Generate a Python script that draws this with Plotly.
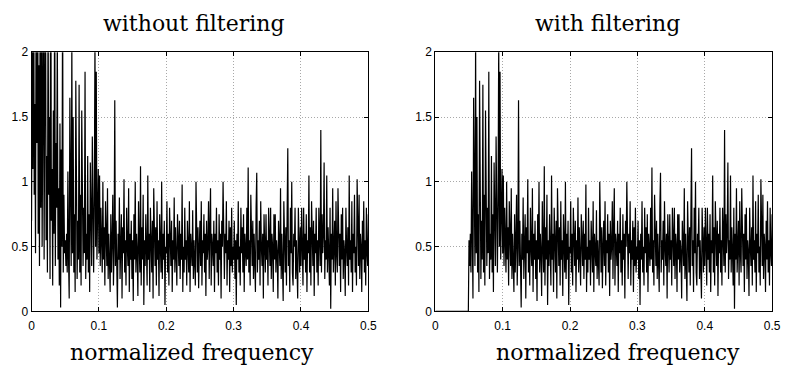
import numpy as np
import plotly.graph_objects as go

# Spectrum magnitude, in 0.05-wide frequency segments (0 .. 0.5)
seg_a = [0.7, 2.2, 1.1, 3.5, 0.9, 1.6, 0.45, 2.8, 1.3, 4.1, 0.6, 1.9, 0.35, 2.5, 0.8, 3.2,
         0.5, 1.4, 2.6, 0.4, 1.7, 3.0, 0.55, 1.2, 0.3, 2.4, 0.9, 1.5, 0.25, 3.3, 0.7, 1.1,
         0.2, 1.55, 0.6, 2.7, 0.35, 1.3, 0.8, 2.2, 0.4, 0.95, 0.2, 1.45, 0.03, 1.25, 0.5, 2.5,
         0.3, 0.9, 0.45]
seg_b = [0.55, 0.35, 0.6, 0.3, 1.08, 0.4, 0.1, 1.65, 0.5, 0.35, 2.1, 0.45, 1.5, 0.3, 0.75, 0.15,
         1.78, 0.55, 0.25, 0.7, 0.4, 1.75, 0.3, 0.9, 0.2, 1.55, 0.5, 0.35, 0.8, 0.45, 1.85, 0.25,
         0.6, 0.4, 1.2, 0.3, 0.75, 0.15, 1.15, 0.5, 0.35, 1.35, 0.6, 0.3, 0.85, 2.1, 0.5, 1.85,
         0.4, 0.7, 1.1]
seg_c = [0.45, 1.05, 0.35, 0.8, 0.55, 0.3, 1.0, 0.4, 0.65, 0.2, 0.85, 0.5, 0.35, 0.95, 0.25, 0.6,
         0.45, 0.15, 0.75, 0.3, 0.55, 0.9, 0.2, 0.5, 1.63, 0.35, 0.7, 0.15, 0.03, 0.6, 0.4, 0.88,
         0.25, 0.5, 0.75, 0.1, 0.65, 0.45, 1.02, 0.3, 0.55, 0.2, 0.8, 0.5, 0.35, 0.95, 0.15, 0.6,
         0.4, 0.7, 0.25]
seg_d = [0.55, 0.08, 0.75, 0.4, 1.0, 0.3, 0.6, 0.45, 0.12, 0.85, 0.5, 0.3, 1.12, 0.2, 0.65, 0.4,
         0.9, 0.05, 0.55, 0.35, 0.75, 0.5, 0.2, 1.05, 0.4, 0.6, 0.15, 0.8, 0.45, 0.3, 0.7, 0.1,
         0.95, 0.5, 0.35, 0.65, 0.2, 0.85, 0.4, 0.55, 0.12, 0.75, 0.45, 0.3, 1.0, 0.25, 0.6, 0.4,
         0.7, 0.05, 0.5]
seg_e = [0.45, 0.85, 0.3, 0.6, 0.2, 0.8, 0.5, 0.35, 0.7, 0.15, 0.55, 0.4, 0.88, 0.3, 0.65, 0.45,
         0.2, 0.75, 0.5, 0.35, 0.7, 0.25, 0.6, 0.4, 0.98, 0.15, 0.5, 0.3, 0.8, 0.4, 0.55, 0.2,
         0.7, 0.45, 0.3, 0.85, 0.15, 0.6, 0.5, 0.35, 0.78, 0.25, 0.55, 0.4, 0.2, 1.0, 0.45, 0.3,
         0.65, 0.18, 0.5]
seg_f = [0.7, 0.35, 0.85, 0.2, 0.55, 0.45, 0.75, 0.3, 0.6, 0.12, 0.7, 0.4, 0.5, 0.85, 0.25, 0.65,
         0.95, 0.2, 0.6, 0.5, 0.35, 0.7, 0.15, 0.6, 0.45, 0.8, 0.3, 0.55, 0.2, 0.75, 0.4, 0.6,
         0.1, 0.7, 0.5, 1.0, 0.35, 0.25, 0.6, 0.45, 0.85, 0.2, 0.55, 0.4, 0.7, 0.15, 0.65, 0.35,
         0.8, 0.3, 0.5]
seg_g = [0.4, 0.7, 0.25, 0.55, 0.05, 0.6, 0.4, 0.85, 0.3, 0.5, 0.2, 0.8, 0.45, 0.65, 0.3, 0.75,
         0.15, 0.6, 0.5, 0.35, 0.8, 0.4, 1.11, 0.3, 0.55, 0.2, 0.9, 0.5, 0.35, 0.7, 0.25, 0.6,
         0.45, 0.15, 0.8, 1.07, 0.3, 0.55, 0.4, 0.7, 0.2, 0.85, 0.5, 0.35, 0.6, 0.1, 0.75, 0.45,
         0.3, 0.75, 0.4]
seg_h = [0.55, 0.2, 0.8, 0.45, 0.35, 0.8, 0.25, 0.6, 0.5, 0.15, 0.75, 0.4, 0.75, 0.3, 0.55, 0.45,
         0.1, 0.7, 0.5, 0.35, 0.95, 0.25, 0.6, 0.4, 0.08, 0.85, 0.5, 0.3, 0.65, 0.2, 0.75, 1.26,
         0.35, 0.55, 0.15, 0.8, 0.45, 1.0, 0.3, 0.2, 0.6, 0.5, 0.8, 0.25, 0.55, 0.4, 0.1, 0.8,
         0.45, 0.3, 0.65]
seg_i = [0.35, 0.8, 0.5, 0.2, 0.8, 0.4, 0.6, 0.3, 0.75, 0.15, 0.55, 0.45, 1.05, 0.3, 0.65, 0.2,
         0.85, 0.5, 0.35, 0.7, 0.12, 0.6, 0.45, 0.8, 0.3, 0.55, 0.2, 0.8, 0.5, 0.35, 1.4, 0.3,
         0.75, 0.45, 0.6, 1.15, 0.25, 0.55, 0.4, 1.05, 0.3, 0.65, 0.45, 0.2, 0.8, 0.02, 0.6, 0.4,
         0.95, 0.3, 0.5]
seg_j = [0.7, 0.2, 0.85, 0.45, 0.3, 0.95, 0.5, 0.35, 0.6, 0.15, 0.75, 0.4, 0.8, 0.25, 0.55, 0.45,
         0.12, 0.8, 0.5, 0.35, 0.65, 0.2, 1.05, 0.4, 0.55, 0.3, 0.85, 0.15, 0.6, 0.45, 0.9, 0.3,
         0.5, 0.2, 1.02, 0.45, 0.35, 0.9, 0.25, 0.6, 0.5, 0.15, 0.7, 0.4, 0.85, 0.3, 0.55, 0.2,
         0.8, 0.45, 0.35, 0.75]

spectrum = np.array(seg_a + seg_b + seg_c + seg_d + seg_e + seg_f + seg_g + seg_h + seg_i + seg_j)
freq = np.linspace(0, 0.5, len(spectrum))
cutoff = 0.0495
filtered = np.where(freq < cutoff, 0.0, spectrum)

x_ticks = [0, 0.1, 0.2, 0.3, 0.4, 0.5]
x_ticklabels = ["0", "0.1", "0.2", "0.3", "0.4", "0.5"]
y_ticks = [0, 0.5, 1, 1.5, 2]
y_ticklabels = ["0", "0.5", "1", "1.5", "2"]
titles = ["without filtering", "with filtering"]
xlabel = "normalized frequency"

W, H = 789, 383
fig = go.Figure()
fig.add_trace(go.Scatter(x=freq, y=spectrum, mode="lines", line=dict(color="black", width=1.2),
                         xaxis="x", yaxis="y", showlegend=False, hoverinfo="skip"))
fig.add_trace(go.Scatter(x=freq, y=filtered, mode="lines", line=dict(color="black", width=1.2),
                         xaxis="x2", yaxis="y2", showlegend=False, hoverinfo="skip"))

tickfont = dict(family="Liberation Sans, Arial", size=12, color="black")
common = dict(showline=True, mirror="ticks", linecolor="black", linewidth=1,
              ticks="inside", ticklen=4, tickcolor="black", showgrid=True,
              gridcolor="#a8a8a8", griddash="1px,2px", gridwidth=1, zeroline=False,
              tickfont=tickfont, fixedrange=True)
def xax(dom, anchor):
    return dict(domain=dom, anchor=anchor, range=[0, 0.5], tickvals=x_ticks,
                ticktext=x_ticklabels, ticklabelstandoff=3, **common)
def yax(dom, anchor):
    return dict(domain=dom, anchor=anchor, range=[0, 2], tickvals=y_ticks,
                ticktext=y_ticklabels, **common)

ydom = [1 - 316 / H, 1 - 47 / H]
fig.update_layout(
    width=W, height=H, margin=dict(l=0, r=0, t=0, b=0),
    paper_bgcolor="white", plot_bgcolor="white",
    xaxis=xax([29 / W, 371 / W], "y"), yaxis=yax(ydom, "x"),
    xaxis2=xax([439 / W, 781 / W], "y2"), yaxis2=yax(ydom, "x2"),
)
serif = dict(family="DejaVu Serif, serif", size=22, color="black")
for cx, t in [(194, titles[0]), (614, titles[1])]:
    fig.add_annotation(x=cx / W, y=1 - 17 / H, xref="paper", yref="paper", text=t,
                       showarrow=False, font=serif, xanchor="center", yanchor="middle")
for cx in [192, 624]:
    fig.add_annotation(x=cx / W, y=1 - 359 / H, xref="paper", yref="paper", text=xlabel,
                       showarrow=False, font=serif, xanchor="center", yanchor="middle")

fig.write_html("out.html")
